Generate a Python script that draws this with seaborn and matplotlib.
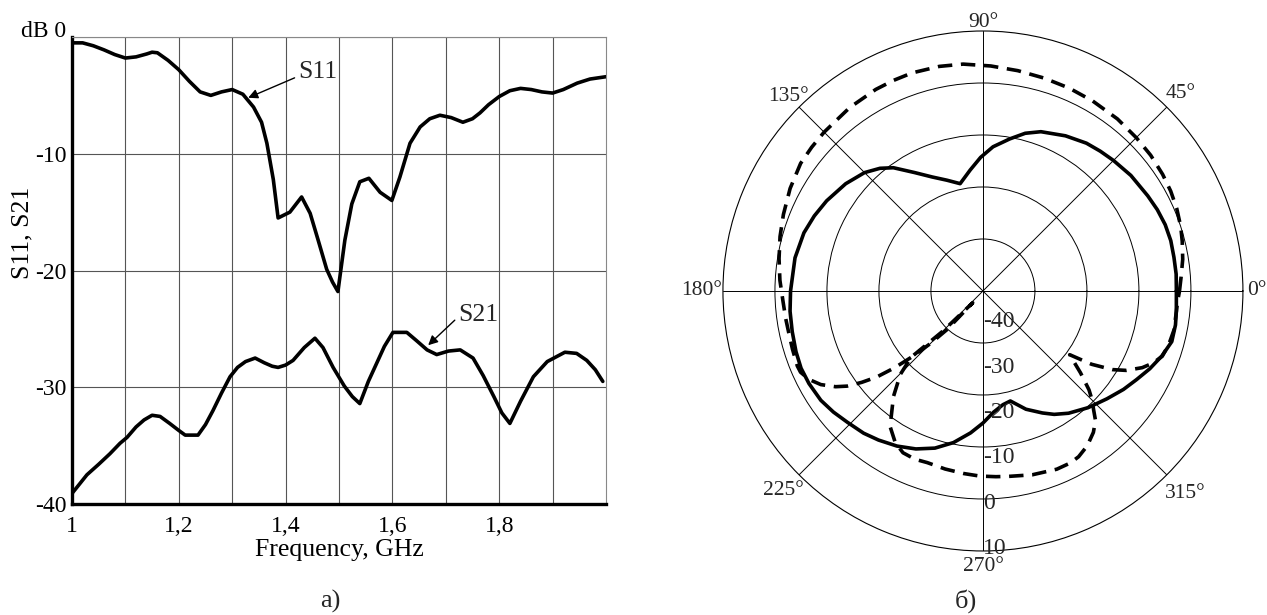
import numpy as np
import pandas as pd
import matplotlib
matplotlib.use("Agg")
import matplotlib.pyplot as plt
import seaborn as sns

# --- panel a: S-parameters vs frequency ---
freq_s11 = [1.000, 1.02, 1.04, 1.06, 1.08, 1.10, 1.12, 1.14, 1.15, 1.16, 1.18, 1.20,
            1.22, 1.24, 1.26, 1.28, 1.30, 1.32, 1.34, 1.355, 1.365, 1.377, 1.386,
            1.408, 1.43, 1.446, 1.461, 1.477, 1.488, 1.498, 1.511, 1.524, 1.539,
            1.556, 1.577, 1.599, 1.614, 1.633, 1.652, 1.67, 1.689, 1.71, 1.732,
            1.75, 1.764, 1.78, 1.80, 1.82, 1.84, 1.86, 1.88, 1.90, 1.92, 1.946,
            1.97, 2.0]
s11_db = [-0.5, -0.5, -0.75, -1.1, -1.5, -1.8, -1.7, -1.45, -1.3, -1.35, -2.0, -2.8,
          -3.8, -4.7, -5.0, -4.7, -4.5, -4.9, -6.0, -7.3, -9.1, -12.2, -15.5,
          -15.0, -13.7, -15.1, -17.4, -19.9, -21.0, -21.8, -17.4, -14.3, -12.4,
          -12.1, -13.3, -14.0, -12.0, -9.1, -7.7, -7.0, -6.7, -6.9, -7.3,
          -7.0, -6.5, -5.8, -5.1, -4.6, -4.4, -4.5, -4.7, -4.8, -4.5, -3.95,
          -3.6, -3.4]

freq_s21 = [1.0, 1.014, 1.028, 1.05, 1.071, 1.09, 1.103, 1.12, 1.135, 1.15, 1.165,
            1.183, 1.20, 1.212, 1.236, 1.25, 1.264, 1.28, 1.296, 1.31, 1.325, 1.343,
            1.36, 1.375, 1.386, 1.40, 1.414, 1.435, 1.455, 1.47, 1.489, 1.51, 1.525,
            1.539, 1.555, 1.571, 1.585, 1.601, 1.627, 1.645, 1.665, 1.683, 1.705,
            1.727, 1.751, 1.77, 1.79, 1.805, 1.820, 1.84, 1.864, 1.89, 1.923, 1.945,
            1.964, 1.98, 1.994]
s21_db = [-39.1, -38.3, -37.5, -36.6, -35.7, -34.8, -34.3, -33.4, -32.8, -32.4, -32.5,
          -33.1, -33.7, -34.1, -34.1, -33.2, -32.0, -30.5, -29.1, -28.3, -27.8, -27.5,
          -27.9, -28.2, -28.3, -28.1, -27.7, -26.6, -25.8, -26.6, -28.3, -29.9, -30.8,
          -31.4, -29.5, -27.9, -26.5, -25.3, -25.3, -26.0, -26.8, -27.2, -26.9,
          -26.8, -27.5, -29.0, -30.8, -32.2, -33.1, -31.2, -29.1, -27.8, -27.0, -27.1,
          -27.7, -28.5, -29.5]

x_ticks = [1.0, 1.2, 1.4, 1.6, 1.8]
x_tick_labels = ["1", "1,2", "1,4", "1,6", "1,8"]
y_ticks = [-40, -30, -20, -10, 0]
y_tick_labels = ["-40", "-30", "-20", "-10", "dB 0"]

# --- panel b: radiation patterns, dB vs angle (degrees) ---
theta_solid = [0, 5, 10, 15, 20, 25, 30, 38, 45, 50, 55, 62, 70, 75, 80, 86, 91, 96,
               102, 108, 114, 120, 126, 130, 135, 142, 150, 156, 162, 170, 180, 186,
               192, 198, 203, 208, 214, 219, 224, 230, 235, 241, 247, 253, 259, 265,
               270, 275, 280, 284, 290, 296, 300, 305, 312, 319, 325, 330, 335, 340,
               345, 350, 354, 360]
solid_db = [-2.8, -2.7, -2.7, -2.6, -2.7, -3.0, -3.4, -3.9, -4.5, -4.9, -5.3, -6.2,
            -7.4, -8.6, -10.3, -12.2, -14.3, -16.6, -18.9, -17.6, -16.0, -13.7, -10.7,
            -9.2, -7.8, -6.5, -5.3, -4.5, -3.8, -3.3, -3.0, -2.7, -2.5, -2.2, -2.0,
            -2.1, -2.4, -3.0, -3.7, -4.3, -5.0, -5.9, -7.0, -8.4, -10.3, -12.6,
            -14.6, -16.6, -17.8, -18.2, -15.8, -13.9, -12.6, -11.3, -9.8, -8.4, -7.0,
            -5.9, -4.6, -3.4, -2.4, -2.4, -2.6, -2.8]

theta_dashed = [0, 4, 9, 14, 18, 23, 28, 33, 39, 45, 52, 60, 67, 74, 81, 88, 95, 101,
                108, 113, 118, 126, 135, 140, 145, 152, 159, 165, 171, 177, 183, 188,
                192, 197, 202, 204, 207, 210, 213, 215, 217, 219, 221, 223, 225, 227,
                229, 225, 222.7, 225.3, 229.7, 235.6, 240, 243.7, 248, 252, 258, 264,
                269, 274, 278, 285, 292.5, 297, 300, 304, 308, 311, 313, 315, 317, 320,
                323.7, 326, 328.7, 331, 334.3, 337, 340, 344, 348.5, 353, 357, 360]
dashed_db = [-2.2, -1.8, -1.1, -0.5, 0.0, 0.5, 0.9, 1.2, 1.5, 1.7, 2.0, 2.2, 2.4, 2.6,
             2.9, 3.3, 3.8, 4.0, 4.1, 4.0, 3.9, 3.6, 3.2, 3.0, 2.8, 2.0, 1.1, 0.4, -0.3,
             -0.9, -1.5, -1.7, -1.8, -1.7, -1.5, -1.6, -2.5, -4.0, -6.2, -8.1, -10.8,
             -13.7, -17.5, -21.6, -25.7, -29.8, -37.0, -29.0, -21.2, -17.4, -13.4, -8.4,
             -6.3, -5.3, -5.1, -5.3, -5.0, -4.7, -4.4, -4.2, -4.0, -3.4, -2.9, -2.9,
             -3.2, -4.1, -5.5, -7.0, -8.8, -10.3, -12.1, -15.5, -19.3, -14.8, -10.9,
             -8.5, -6.0, -4.5, -3.3, -2.8, -2.5, -2.6, -2.5, -2.2]

angle_ticks = [0, 45, 90, 135, 180, 225, 270, 315]
angle_labels = [f"{a}°" for a in angle_ticks]
angle_label_r = [10.8, 13.8, 11.6, 12.9, 10.2, 14.3, 13.0, 15.0]
angle_label_ha = ["left", "center", "center", "center", "right", "center", "center", "center"]
ring_values = [-30, -20, -10, 0]
ring_text = ["-40", "-30", "-20", "-10", "0", "10"]
ring_text_r = [-34.1, -25.3, -16.6, -7.9, 0.8, 9.5]

sns.set_theme(style="white")
plt.rcParams["font.family"] = ["Liberation Serif", "DejaVu Serif"]

fig = plt.figure(figsize=(12.67, 6.15), dpi=100)

# ---------- panel a ----------
ax = fig.add_axes([0.0568, 0.1805, 0.4215, 0.7593])
df11 = pd.DataFrame({"f": freq_s11, "dB": s11_db})
df21 = pd.DataFrame({"f": freq_s21, "dB": s21_db})
sns.lineplot(data=df11, x="f", y="dB", ax=ax, color="black", lw=2.6,
             estimator=None, sort=False)
sns.lineplot(data=df21, x="f", y="dB", ax=ax, color="black", lw=2.6,
             estimator=None, sort=False)
ax.set_xlim(1, 2)
ax.set_ylim(-40, 0)
ax.set_xticks(x_ticks)
ax.set_xticklabels(x_tick_labels)
ax.set_xticks(np.arange(1.1, 2.0, 0.2), minor=True)
ax.set_yticks(y_ticks)
ax.set_yticklabels(y_tick_labels)
ax.yaxis.get_ticklabels()[-1].set_verticalalignment("baseline")
ax.grid(True, which="both", color="#555555", lw=0.8)
ax.tick_params(axis="both", which="both", length=0, labelsize=17, colors="black")
ax.tick_params(axis="y", pad=4)
ax.tick_params(axis="x", pad=9)
for side in ["left", "bottom"]:
    ax.spines[side].set_linewidth(2.4)
    ax.spines[side].set_color("black")
for side in ["top", "right"]:
    ax.spines[side].set_linewidth(0.8)
    ax.spines[side].set_color("#888888")
ax.set_xlabel("Frequency, GHz", fontsize=18.5, color="black", labelpad=1)
ax.set_ylabel("S11, S21", fontsize=18.5, color="black")
ax.yaxis.set_label_coords(-0.073, 0.58)

arrow = dict(arrowstyle="-|>", color="black", lw=1.0, mutation_scale=14,
             shrinkA=0, shrinkB=0)
ax.annotate("S11", xy=(1.33, -5.2), xytext=(1.423, -3.0), fontsize=18.5,
            va="center", ha="left",
            arrowprops=dict(arrow, relpos=(0.0, 0.3)))
ax.annotate("S21", xy=(1.667, -26.4), xytext=(1.723, -23.8), fontsize=18.5,
            va="center", ha="left",
            arrowprops=dict(arrow, relpos=(0.0, 0.4)))
fig.text(0.261, 0.004, "а)", fontsize=19, ha="center", va="bottom")

# ---------- panel b ----------
ax2 = fig.add_axes([0.5706, 0.1041, 0.4104, 0.8455], projection="polar")
dfs = pd.DataFrame({"t": np.deg2rad(theta_solid), "dB": solid_db})
dfd = pd.DataFrame({"t": np.deg2rad(theta_dashed), "dB": dashed_db})
sns.lineplot(data=dfs, x="t", y="dB", ax=ax2, color="black", lw=2.6,
             estimator=None, sort=False)
sns.lineplot(data=dfd, x="t", y="dB", ax=ax2, color="black", lw=2.6,
             estimator=None, sort=False, linestyle=(0, (4, 2.4)))
ax2.set_ylim(-40, 10)
ax2.set_yticks(ring_values)
ax2.set_yticklabels([])
ax2.set_thetagrids(angle_ticks, [""] * len(angle_ticks))
ax2.grid(True, color="black", lw=0.7)
ax2.spines["polar"].set_linewidth(0.8)
ax2.spines["polar"].set_color("black")
ax2.set_xlabel("")
ax2.set_ylabel("")
for a, txt, r, ha in zip(angle_ticks, angle_labels, angle_label_r, angle_label_ha):
    ax2.text(np.deg2rad(a), r, txt, fontsize=15.5, ha=ha, va="center",
             clip_on=False)
for txt, r in zip(ring_text, ring_text_r):
    ax2.text(np.deg2rad(270), r, txt, fontsize=17, ha="left", va="center")
fig.text(0.762, 0.004, "б)", fontsize=19, ha="center", va="bottom")

fig.savefig("out.png", dpi=100)
